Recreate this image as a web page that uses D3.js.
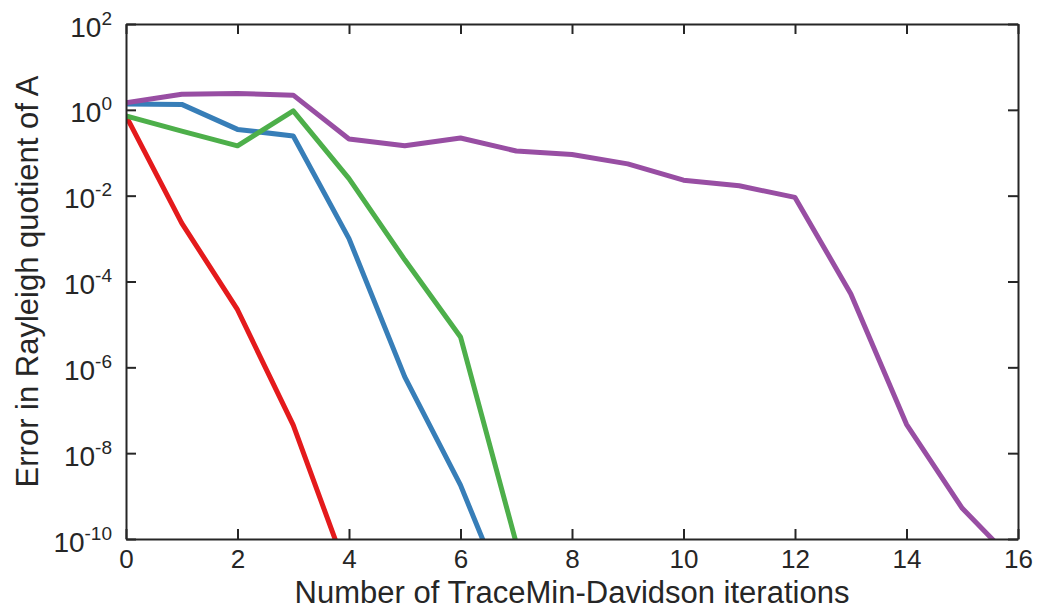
<!DOCTYPE html>
<html>
<head>
<meta charset="utf-8">
<script src="https://cdn.jsdelivr.net/npm/d3@7"></script>
<style>
  body { margin: 0; background: #fff; }
  text { font-family: "Liberation Sans", Arial, sans-serif; fill: #262626; }
</style>
</head>
<body>
<div id="chart"></div>
<script>
// iterations of TraceMin-Davidson
let iterations = [0, 1, 2, 3, 4, 5, 6, 7, 8, 9, 10, 11, 12, 13, 14, 15, 16];
// error values per run
let redValues = [0.72, 2.3e-3, 2.2e-5, 4.5e-8, 1.3e-11];
let blueValues = [1.36, 1.34, 0.35, 0.245, 1.0e-3, 6.0e-7, 1.8e-9, 1.2e-12];
let greenValues = [0.72, 0.32, 0.145, 0.95, 0.025, 3.2e-4, 5.1e-6, 8e-11];
let purpleValues = [1.47, 2.3, 2.4, 2.2, 0.21, 0.145, 0.22, 0.11, 0.091, 0.055, 0.023, 0.017, 0.0091, 5.2e-5, 4.7e-8, 5.2e-10, 2.4e-11];
let seriesColors = ["#e41a1c", "#377eb8", "#4daf4a", "#984ea3"];
let xTicks = [0, 2, 4, 6, 8, 10, 12, 14, 16];
let yTickExponents = [-10, -8, -6, -4, -2, 0, 2];

let margin = {
  top: 24
  , right: 21
  , bottom: 71
  , left: 126
}
, width = 1039 - margin.left - margin.right
, height = 610 - margin.top - margin.bottom;

let svg = d3.select("#chart").append("svg")
        .attr("width", 1039)
        .attr("height", 610);

let x = d3.scaleLinear().domain([0, 16]).range([0, width]);
let y = d3.scaleLog().domain([1e-10, 1e2]).range([height, 0]);

let focus = svg.append("g")
        .attr("transform", "translate(" + margin.left + "," + margin.top + ")");

svg.append("defs").append("clipPath")
        .attr("id", "plotclip")
        .append("rect")
        .attr("width", width)
        .attr("height", height);

let line = d3.line()
        .x(function(d, i) { return x(iterations[i]); })
        .y(function(d) { return y(d); });

let allSeries = [redValues, blueValues, greenValues, purpleValues];
let lines = focus.append("g").attr("clip-path", "url(#plotclip)");
for (let i = 0; i < allSeries.length; i++) {
  lines.append("path")
          .datum(allSeries[i])
          .attr("fill", "none")
          .attr("stroke", seriesColors[i])
          .attr("stroke-width", 5)
          .attr("stroke-linejoin", "round")
          .attr("d", line);
}

// axes: ticks pointing inward, box all round
let yTickVals = yTickExponents.map(function(e) { return Math.pow(10, e); });
let axisColor = "#262626";

function styleAxis(g) {
  g.select(".domain").attr("stroke", axisColor).attr("stroke-width", 2);
  g.selectAll(".tick line").attr("stroke", axisColor).attr("stroke-width", 2);
}

focus.append("g")
        .attr("transform", "translate(0," + height + ")")
        .call(d3.axisBottom(x).tickValues(xTicks).tickSizeInner(-10).tickSizeOuter(0).tickPadding(10.5))
        .call(styleAxis)
        .call(function(g) {
          g.selectAll(".tick text").attr("font-size", 26).attr("fill", axisColor)
                  .attr("font-family", "Liberation Sans, Arial, sans-serif");
        });

focus.append("g")
        .call(d3.axisTop(x).tickValues(xTicks).tickSizeInner(-10).tickSizeOuter(0).tickFormat(""))
        .call(styleAxis);

let yAxisG = focus.append("g")
        .call(d3.axisLeft(y).tickValues(yTickVals).tickSizeInner(-10).tickSizeOuter(0).tickFormat(""))
        .call(styleAxis);

focus.append("g")
        .attr("transform", "translate(" + width + ",0)")
        .call(d3.axisRight(y).tickValues(yTickVals).tickSizeInner(-10).tickSizeOuter(0).tickFormat(""))
        .call(styleAxis);

// y tick labels as 10 with superscript exponent
yAxisG.selectAll(".tick").each(function(d, i) {
  let t = d3.select(this).append("text")
          .attr("x", -14)
          .attr("y", 12)
          .attr("text-anchor", "end")
          .attr("font-size", 28)
          .attr("fill", axisColor)
          .attr("font-family", "Liberation Sans, Arial, sans-serif");
  t.append("tspan").text("10");
  t.append("tspan")
          .attr("font-size", 19)
          .attr("dy", -12)
          .text(yTickExponents[i]);
});

svg.append("text")
        .attr("x", margin.left + width / 2)
        .attr("y", 603)
        .attr("text-anchor", "middle")
        .attr("font-size", 31)
        .text("Number of TraceMin-Davidson iterations");

svg.append("text")
        .attr("transform", "translate(38," + (margin.top + height / 2) + ") rotate(-90)")
        .attr("text-anchor", "middle")
        .attr("font-size", 31)
        .text("Error in Rayleigh quotient of A");
</script>
</body>
</html>
